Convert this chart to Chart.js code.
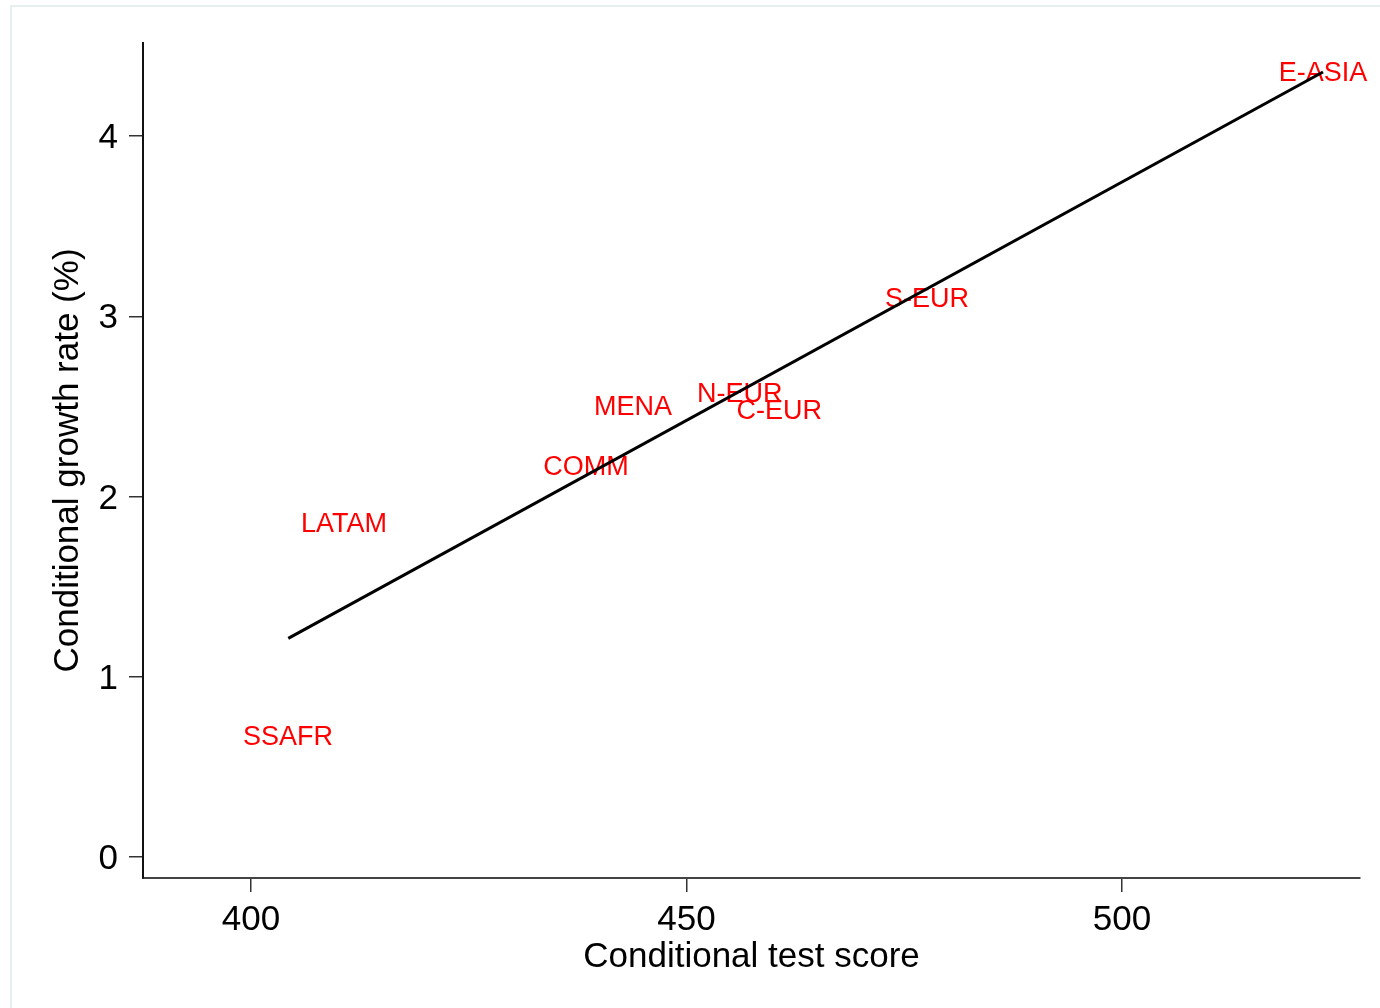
<!DOCTYPE html>
<html>
<head>
<meta charset="utf-8">
<script src="https://cdn.jsdelivr.net/npm/chart.js@4/dist/chart.umd.min.js"></script>
<style>
  html, body { margin: 0; padding: 0; background: #ffffff; }
  #frame {
    position: absolute; left: 10px; top: 5px; width: 1370px; height: 1003px;
    border-top: 2px solid #e6eef0; border-left: 2px solid #e6eef0; box-sizing: border-box;
  }
  #chart { position: absolute; left: 0; top: 0; }
</style>
</head>
<body>
<div id="frame"></div>
<canvas id="chart" width="1380" height="1008"></canvas>
<script>
// Regional averages: conditional test score vs conditional growth rate
const regions    = ['SSAFR', 'LATAM', 'COMM', 'MENA', 'N-EUR', 'C-EUR', 'S-EUR', 'E-ASIA'];
const testScore  = [404.25, 410.68, 438.46, 443.86, 456.11, 460.64, 477.61, 523.08];
const growthRate = [0.675, 1.856, 2.172, 2.502, 2.579, 2.482, 3.104, 4.355];

// Fitted line end points
const fitScore  = [404.28, 523.08];
const fitGrowth = [1.213, 4.355];

// Axis ticks
const xTicks = [400, 450, 500];
const yTicks = [0, 1, 2, 3, 4];

const FONT = "'Liberation Sans', Arial, Helvetica, sans-serif";

// Region names are written centred on their points, beneath the fitted line
const regionLabels = {
  id: 'regionLabels',
  beforeDatasetsDraw(chart) {
    const meta = chart.getDatasetMeta(0);
    const ctx = chart.ctx;
    ctx.save();
    ctx.font = '27px ' + FONT;
    ctx.fillStyle = '#ff0000';
    ctx.textAlign = 'center';
    ctx.textBaseline = 'middle';
    meta.data.forEach((pt, i) => {
      ctx.fillText(regions[i], pt.x, pt.y + 2);
    });
    ctx.restore();
  }
};

new Chart(document.getElementById('chart'), {
  type: 'scatter',
  data: {
    datasets: [
      {
        label: 'Regions',
        data: testScore.map((x, i) => ({ x: x, y: growthRate[i] })),
        pointRadius: 0,
        pointHoverRadius: 0,
        showLine: false
      },
      {
        label: 'Fitted values',
        data: fitScore.map((x, i) => ({ x: x, y: fitGrowth[i] })),
        showLine: true,
        borderColor: '#000000',
        borderWidth: 3,
        pointRadius: 0,
        pointHoverRadius: 0,
        fill: false
      }
    ]
  },
  options: {
    responsive: false,
    animation: false,
    events: [],
    layout: { padding: { left: 0, top: 43, right: 20, bottom: 0 } },
    plugins: {
      legend: { display: false },
      tooltip: { enabled: false }
    },
    scales: {
      x: {
        type: 'linear',
        min: 387.6,
        max: 527.33,
        afterBuildTicks: (scale) => { scale.ticks = xTicks.map(v => ({ value: v })); },
        afterFit: (scale) => { scale.height = 130; },
        grid: { display: true, drawOnChartArea: false, drawTicks: true, tickLength: 14, color: '#333333', lineWidth: 1.5 },
        border: { display: true, color: '#444444', width: 2 },
        ticks: { color: '#000000', padding: 7, font: { family: FONT, size: 35 }, maxRotation: 0 },
        title: {
          display: true,
          text: 'Conditional test score',
          color: '#000000',
          font: { family: FONT, size: 35 },
          padding: { top: 0, bottom: 29.5 }
        }
      },
      y: {
        type: 'linear',
        min: -0.1165,
        max: 4.516,
        afterBuildTicks: (scale) => { scale.ticks = yTicks.map(v => ({ value: v })); },
        afterFit: (scale) => { scale.width = 143; },
        grid: { display: true, drawOnChartArea: false, drawTicks: true, tickLength: 14, color: '#333333', lineWidth: 1.5 },
        border: { display: true, color: '#111111', width: 2 },
        ticks: { color: '#000000', padding: 11, labelOffset: 2.5, font: { family: FONT, size: 35 } },
        title: {
          display: true,
          text: 'Conditional growth rate (%)',
          color: '#000000',
          font: { family: FONT, size: 35 },
          padding: { top: 47, bottom: 0 }
        }
      }
    }
  },
  plugins: [regionLabels]
});
</script>
</body>
</html>
